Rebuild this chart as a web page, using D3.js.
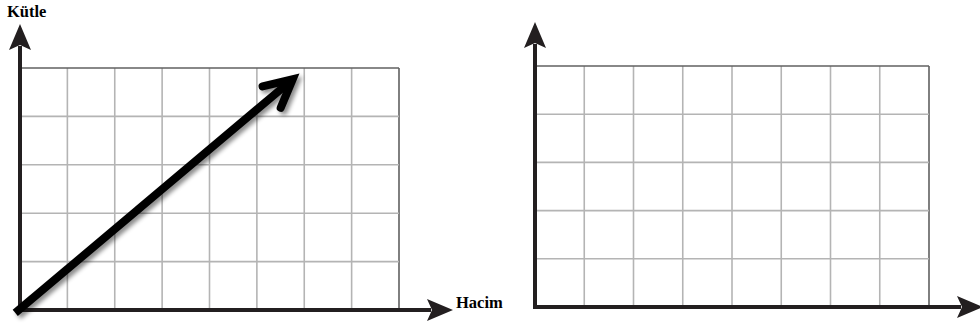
<!DOCTYPE html>
<html><head><meta charset="utf-8">
<script src="https://cdn.jsdelivr.net/npm/d3@7"></script>
<style>html,body{margin:0;padding:0;background:#fff;}svg{display:block;}</style>
</head><body>
<svg id="c" width="980" height="327"></svg>
<script>
// ---- data ----
const xCells = [0,1,2,3,4,5,6,7,8];      // vertical grid lines
const yCells = [0,1,2,3,4,5];            // horizontal grid lines
const yAxisLabel = "Kütle";
const xAxisLabel = "Hacim";
const arrowX = [-0.1, 5.87];             // diagonal arrow (Hacim)
const arrowY = [-0.06, 4.86];            // diagonal arrow (Kütle)

const svg = d3.select("#c");
const defs = svg.append("defs");
const f = defs.append("filter").attr("id","sh").attr("x","-20%").attr("y","-20%").attr("width","140%").attr("height","140%");
f.append("feDropShadow").attr("dx",3).attr("dy",3).attr("stdDeviation",2).attr("flood-color","#000").attr("flood-opacity",0.45);

const AX = "#231f20";

function panel(g, x, y, opts){
  g.selectAll(".vg").data(xCells).join("line")
    .attr("x1",d=>x(d)).attr("x2",d=>x(d))
    .attr("y1",y(0)).attr("y2",y(5))
    .attr("stroke",d=>d===8?"#606060":"#b4b4b4").attr("stroke-width",1.6);
  g.selectAll(".hg").data(yCells).join("line")
    .attr("y1",d=>y(d)).attr("y2",d=>y(d))
    .attr("x1",x(0)).attr("x2",x(8))
    .attr("stroke",d=>d===5?"#606060":"#b4b4b4").attr("stroke-width",1.6);
  const x0 = x(0), y0 = y(0);
  g.append("line").attr("x1",x0).attr("x2",x0).attr("y1",opts.yTip+22).attr("y2",y0+2)
    .attr("stroke",AX).attr("stroke-width",4);
  g.append("path").attr("d",`M${x0},${opts.yTip} L${x0+11},${opts.yTip+26} L${x0},${opts.yTip+21} L${x0-11},${opts.yTip+26} Z`).attr("fill",AX);
  g.append("line").attr("x1",x0-2).attr("x2",opts.xTip-22).attr("y1",y0).attr("y2",y0)
    .attr("stroke",AX).attr("stroke-width",4);
  g.append("path").attr("d",`M${opts.xTip},${y0} L${opts.xTip-26},${y0-11} L${opts.xTip-21},${y0} L${opts.xTip-26},${y0+11} Z`).attr("fill",AX);
}

const xL = d3.scaleLinear().domain([0,8]).range([20,399]);
const yL = d3.scaleLinear().domain([0,5]).range([310,68]);
const xR = d3.scaleLinear().domain([0,8]).range([535,929]);
const yR = d3.scaleLinear().domain([0,5]).range([307,66]);

const gL = svg.append("g");
panel(gL, xL, yL, {yTip:24, xTip:453});
const gR = svg.append("g");
panel(gR, xR, yR, {yTip:22, xTip:983});

svg.append("text").attr("x",7).attr("y",17).text(yAxisLabel)
  .attr("font-family","'Liberation Serif','Times New Roman',serif").attr("font-weight","bold").attr("font-size",16.5).attr("fill","#000");
svg.append("text").attr("x",456).attr("y",308).text(xAxisLabel)
  .attr("font-family","'Liberation Serif','Times New Roman',serif").attr("font-weight","bold").attr("font-size",16.5).attr("fill","#000");

const pts = arrowX.map((v,i)=>[xL(v), yL(arrowY[i])]);
const [p0,p1] = pts;
const dx = p1[0]-p0[0], dy = p1[1]-p0[1], L = Math.hypot(dx,dy);
const ux = dx/L, uy = dy/L;
const back = Math.atan2(-uy,-ux), spread = 27*Math.PI/180, armLen = 31;
const vx = p1[0]-ux*7, vy = p1[1]-uy*7;
const a1 = [vx+armLen*Math.cos(back+spread), vy+armLen*Math.sin(back+spread)];
const a2 = [vx+armLen*Math.cos(back-spread), vy+armLen*Math.sin(back-spread)];
const ga = svg.append("g").attr("filter","url(#sh)");
ga.append("path").attr("d",d3.line()([p0,[vx-ux*3,vy-uy*3]]))
  .attr("stroke","#000").attr("stroke-width",8).attr("fill","none");
ga.append("path").attr("d",d3.line()([a1,[vx,vy],a2]))
  .attr("stroke","#000").attr("stroke-width",8).attr("fill","none")
  .attr("stroke-linejoin","miter").attr("stroke-miterlimit",10).attr("stroke-linecap","round");
</script>
</body></html>
